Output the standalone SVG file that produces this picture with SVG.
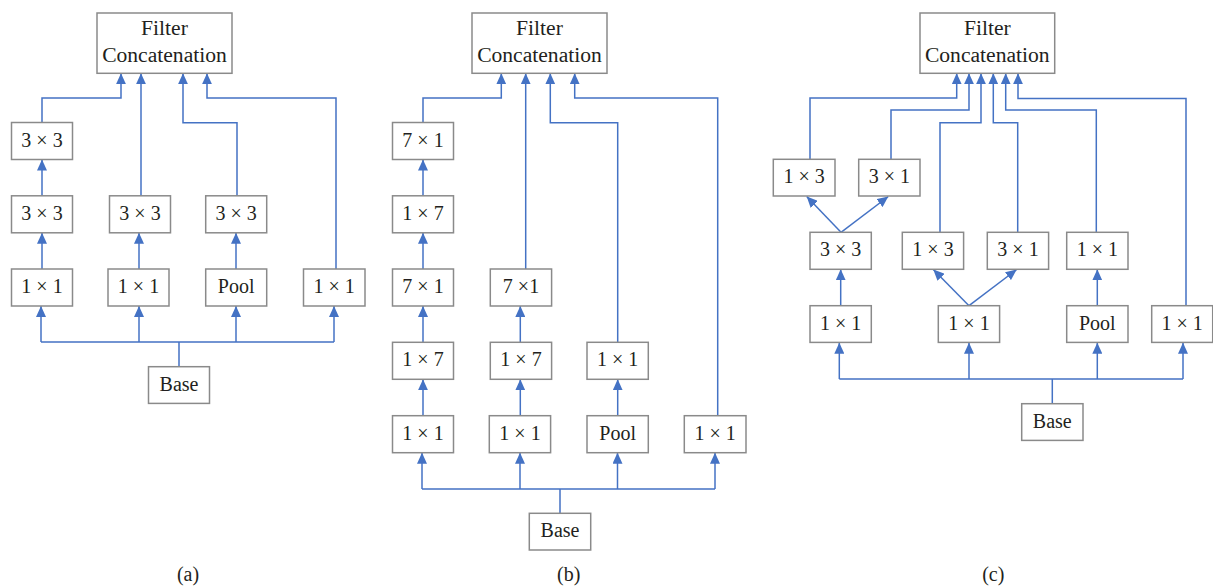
<svg xmlns="http://www.w3.org/2000/svg" width="1213" height="588" viewBox="0 0 1213 588">
<defs>
<style>
.box{fill:#fff;stroke:#8a8a8a;stroke-width:1.5}
.t{font-family:"Liberation Serif","Times New Roman",serif;font-size:20px;fill:#231f20;text-anchor:middle}
.ft{font-size:21.6px}
.c{fill:none;stroke:#4472c4;stroke-width:1.5}
.a{marker-end:url(#ah)}
</style>
<marker id="ah" viewBox="0 0 11 10" refX="11" refY="5" markerWidth="11" markerHeight="10" markerUnits="userSpaceOnUse" orient="auto">
<path d="M0,0 L11,5 L0,10 z" fill="#4472c4"/>
</marker>
</defs>
<rect width="1213" height="588" fill="#fff"/>

<g id="connectors">
<!-- panel a -->
<path class="c" d="M41,342 H334 M179,342 V366.5"/>
<path class="c a" d="M41,342 V306"/>
<path class="c a" d="M139,342 V306"/>
<path class="c a" d="M236,342 V306"/>
<path class="c a" d="M334,342 V306"/>
<path class="c a" d="M42,269 V232.8"/>
<path class="c a" d="M42,195.8 V159.5"/>
<path class="c a" d="M139,269 V232.8"/>
<path class="c a" d="M236,269 V232.8"/>
<path class="c a" d="M42,122.5 V98 H121 V73.3"/>
<path class="c a" d="M141,195.8 V73.3"/>
<path class="c a" d="M237,195.8 V122.7 H183 V73.3"/>
<path class="c a" d="M336,269 V98 H207 V73.3"/>
<!-- panel b -->
<path class="c" d="M422,489 H715 M560,489 V513.3"/>
<path class="c a" d="M422,489 V452.7"/>
<path class="c a" d="M520,489 V452.7"/>
<path class="c a" d="M617.5,489 V452.7"/>
<path class="c a" d="M715,489 V452.7"/>
<path class="c a" d="M423,415.7 V379.3"/>
<path class="c a" d="M423,342.3 V306"/>
<path class="c a" d="M423,269 V232.8"/>
<path class="c a" d="M423,195.8 V159.5"/>
<path class="c a" d="M520.3,415.7 V379.3"/>
<path class="c a" d="M520.3,342.3 V306"/>
<path class="c a" d="M617.7,415.7 V379.3"/>
<path class="c a" d="M423,122.5 V98 H501.3 V73.3"/>
<path class="c a" d="M525.7,269 V73.3"/>
<path class="c a" d="M617.7,342.3 V122.7 H550.3 V73.3"/>
<path class="c a" d="M717.7,415.7 V98 H574.7 V73.3"/>
<!-- panel c -->
<path class="c" d="M839.3,379 H1183 M1052.3,379 V403.7"/>
<path class="c a" d="M839.3,379 V342.7"/>
<path class="c a" d="M969,379 V342.7"/>
<path class="c a" d="M1097.3,379 V342.7"/>
<path class="c a" d="M1183,379 V342.7"/>
<path class="c a" d="M840.7,305.7 V269.3"/>
<path class="c a" d="M1097.3,305.7 V269.3"/>
<path class="c a" d="M841,232.3 L806.7,196.5"/>
<path class="c a" d="M841,232.3 L888.3,196.5"/>
<path class="c a" d="M969,305.7 L933.3,269.5"/>
<path class="c a" d="M969,305.7 L1016.7,269.5"/>
<path class="c a" d="M810,159.3 V98 H956.7 V73.3"/>
<path class="c a" d="M891,159.3 V110 H969 V73.3"/>
<path class="c a" d="M940,232.3 V122.7 H981 V73.3"/>
<path class="c a" d="M1017.7,232.3 V122.7 H993.3 V73.3"/>
<path class="c a" d="M1096.3,232.3 V110 H1005.7 V73.3"/>
<path class="c a" d="M1186,305.7 V98.5 H1018 V73.3"/>
</g>

<!-- Panel a nodes -->
<g id="a_filter"><rect class="box" x="97" y="13" width="135" height="60.3"/><text class="t ft" x="164.5" y="35">Filter</text><text class="t ft" x="164.5" y="62">Concatenation</text></g>
<g id="a_c1_r1"><rect class="box" x="11.5" y="122.5" width="61" height="37"/><text class="t" x="42" y="146.5">3 × 3</text></g>
<g id="a_c1_r2"><rect class="box" x="11.5" y="195.8" width="61" height="37"/><text class="t" x="42" y="219.8">3 × 3</text></g>
<g id="a_c1_r3"><rect class="box" x="11.5" y="269" width="61" height="37"/><text class="t" x="42" y="293">1 × 1</text></g>
<g id="a_c2_r2"><rect class="box" x="109.5" y="195.8" width="61" height="37"/><text class="t" x="140" y="219.8">3 × 3</text></g>
<g id="a_c2_r3"><rect class="box" x="108" y="269" width="61" height="37"/><text class="t" x="138.5" y="293">1 × 1</text></g>
<g id="a_c3_r2"><rect class="box" x="205.7" y="195.8" width="61" height="37"/><text class="t" x="236.2" y="219.8">3 × 3</text></g>
<g id="a_c3_r3"><rect class="box" x="205.7" y="269" width="61" height="37"/><text class="t" x="236.2" y="293">Pool</text></g>
<g id="a_c4_r3"><rect class="box" x="303.5" y="269" width="61.5" height="37"/><text class="t" x="334.2" y="293">1 × 1</text></g>
<g id="a_base"><rect class="box" x="148.5" y="366.7" width="61" height="36.7"/><text class="t" x="179" y="390.7">Base</text></g>
<text class="t" x="188" y="581">(a)</text>

<!-- Panel b nodes -->
<g id="b_filter"><rect class="box" x="472" y="13" width="135" height="60.3"/><text class="t ft" x="539.5" y="35">Filter</text><text class="t ft" x="539.5" y="62">Concatenation</text></g>
<g id="b_c1_r1"><rect class="box" x="392.5" y="122.5" width="61" height="37"/><text class="t" x="423" y="146.5">7 × 1</text></g>
<g id="b_c1_r2"><rect class="box" x="392.5" y="195.8" width="61" height="37"/><text class="t" x="423" y="219.8">1 × 7</text></g>
<g id="b_c1_r3"><rect class="box" x="392.5" y="269" width="61" height="37"/><text class="t" x="423" y="293">7 × 1</text></g>
<g id="b_c1_r4"><rect class="box" x="392.5" y="342.3" width="61" height="37"/><text class="t" x="423" y="366.3">1 × 7</text></g>
<g id="b_c1_r5"><rect class="box" x="392.5" y="415.7" width="61" height="37"/><text class="t" x="423" y="439.7">1 × 1</text></g>
<g id="b_c2_r3"><rect class="box" x="490.3" y="269" width="61.3" height="37"/><text class="t" x="521" y="293">7 ×1</text></g>
<g id="b_c2_r4"><rect class="box" x="490.3" y="342.3" width="61.3" height="37"/><text class="t" x="521" y="366.3">1 × 7</text></g>
<g id="b_c2_r5"><rect class="box" x="489.3" y="415.7" width="61.3" height="37"/><text class="t" x="520" y="439.7">1 × 1</text></g>
<g id="b_c3_r4"><rect class="box" x="587" y="342.3" width="61.3" height="37"/><text class="t" x="617.7" y="366.3">1 × 1</text></g>
<g id="b_c3_r5"><rect class="box" x="587" y="415.7" width="61.3" height="37"/><text class="t" x="617.7" y="439.7">Pool</text></g>
<g id="b_c4_r5"><rect class="box" x="684.3" y="415.7" width="61.7" height="37"/><text class="t" x="715.2" y="439.7">1 × 1</text></g>
<g id="b_base"><rect class="box" x="529.3" y="513.3" width="61.4" height="36.7"/><text class="t" x="560" y="537.3">Base</text></g>
<text class="t" x="568.7" y="581">(b)</text>

<!-- Panel c nodes -->
<g id="c_filter"><rect class="box" x="920" y="13" width="134.7" height="60.3"/><text class="t ft" x="987.3" y="35">Filter</text><text class="t ft" x="987.3" y="62">Concatenation</text></g>
<g id="c_a1"><rect class="box" x="773.3" y="159.3" width="61.7" height="36.7"/><text class="t" x="804.2" y="183.3">1 × 3</text></g>
<g id="c_a2"><rect class="box" x="858.7" y="159.3" width="61.3" height="36.7"/><text class="t" x="889.3" y="183.3">3 × 1</text></g>
<g id="c_b1"><rect class="box" x="810" y="232.3" width="61.3" height="37"/><text class="t" x="840.7" y="256.3">3 × 3</text></g>
<g id="c_b2"><rect class="box" x="902.3" y="232.3" width="61.3" height="37"/><text class="t" x="933" y="256.3">1 × 3</text></g>
<g id="c_b3"><rect class="box" x="987.3" y="232.3" width="61.3" height="37"/><text class="t" x="1018" y="256.3">3 × 1</text></g>
<g id="c_b4"><rect class="box" x="1066.7" y="232.3" width="61.3" height="37"/><text class="t" x="1097.3" y="256.3">1 × 1</text></g>
<g id="c_c1"><rect class="box" x="810" y="305.7" width="61.3" height="36.7"/><text class="t" x="840.7" y="329.7">1 × 1</text></g>
<g id="c_c2"><rect class="box" x="938.3" y="305.7" width="61.3" height="36.7"/><text class="t" x="969" y="329.7">1 × 1</text></g>
<g id="c_c3"><rect class="box" x="1066.7" y="305.7" width="61.3" height="36.7"/><text class="t" x="1097.3" y="329.7">Pool</text></g>
<g id="c_c4"><rect class="box" x="1151.7" y="305.7" width="61" height="36.7"/><text class="t" x="1182.2" y="329.7">1 × 1</text></g>
<g id="c_base"><rect class="box" x="1021.7" y="403.7" width="61.3" height="36.7"/><text class="t" x="1052.3" y="427.7">Base</text></g>
<text class="t" x="993.3" y="581">(c)</text>
</svg>
